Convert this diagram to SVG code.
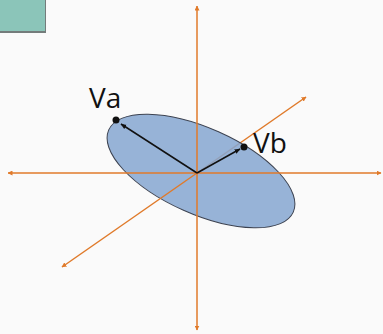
<svg xmlns="http://www.w3.org/2000/svg" width="383" height="334" viewBox="0 0 383 334">
<defs>
<marker id="oa" viewBox="0 0 10 10" refX="9" refY="5" markerWidth="5" markerHeight="5" orient="auto-start-reverse" markerUnits="userSpaceOnUse">
<path d="M0,0 L10,5 L0,10 z" fill="#e07a2a"/>
</marker>
<marker id="ka" viewBox="0 0 10 10" refX="9" refY="5" markerWidth="6" markerHeight="6" orient="auto" markerUnits="userSpaceOnUse">
<path d="M0,1 L10,5 L0,9 z" fill="#111"/>
</marker>
</defs>
<style>
.axis{stroke:#e07a2a;stroke-width:1.5;fill:none}
.vec{stroke:#111;stroke-width:1.5;fill:none;marker-end:url(#ka)}
.lbl{font-family:"Open Sans","Noto Sans",sans-serif;font-size:28px;fill:#111}
</style>
<rect width="383" height="334" fill="#fafafa"/>
<g id="corner">
<rect x="-1" y="-1" width="47" height="34" fill="#747c7b"/>
<rect x="-1" y="-1" width="46" height="32" fill="#8bc5b9"/>
</g>
<g id="connectors">
<line class="axis" x1="197" y1="173" x2="306" y2="97" marker-end="url(#oa)"/>
</g>
<g id="ellipse">
<ellipse cx="201" cy="171" rx="101" ry="43" transform="rotate(24 201 171)" fill="#86a6d1" fill-opacity="0.86" stroke="#3c4250" stroke-width="1"/>
</g>
<g id="axes">
<line class="axis" x1="197" y1="173" x2="62" y2="267" marker-end="url(#oa)"/>
<line class="axis" x1="197" y1="6" x2="197" y2="330" marker-start="url(#oa)" marker-end="url(#oa)"/>
<line class="axis" x1="8" y1="173" x2="381" y2="173" marker-start="url(#oa)" marker-end="url(#oa)"/>
</g>
<g id="vectors">
<line class="vec" x1="197" y1="173" x2="121" y2="124"/>
<line class="vec" x1="197" y1="173" x2="240" y2="149"/>
</g>
<g id="Va">
<circle cx="116" cy="120" r="3.5" fill="#111"/>
<text class="lbl" x="89" y="108">Va</text>
</g>
<g id="Vb">
<circle cx="244" cy="147" r="3.5" fill="#111"/>
<text class="lbl" x="253" y="153">Vb</text>
</g>
</svg>
